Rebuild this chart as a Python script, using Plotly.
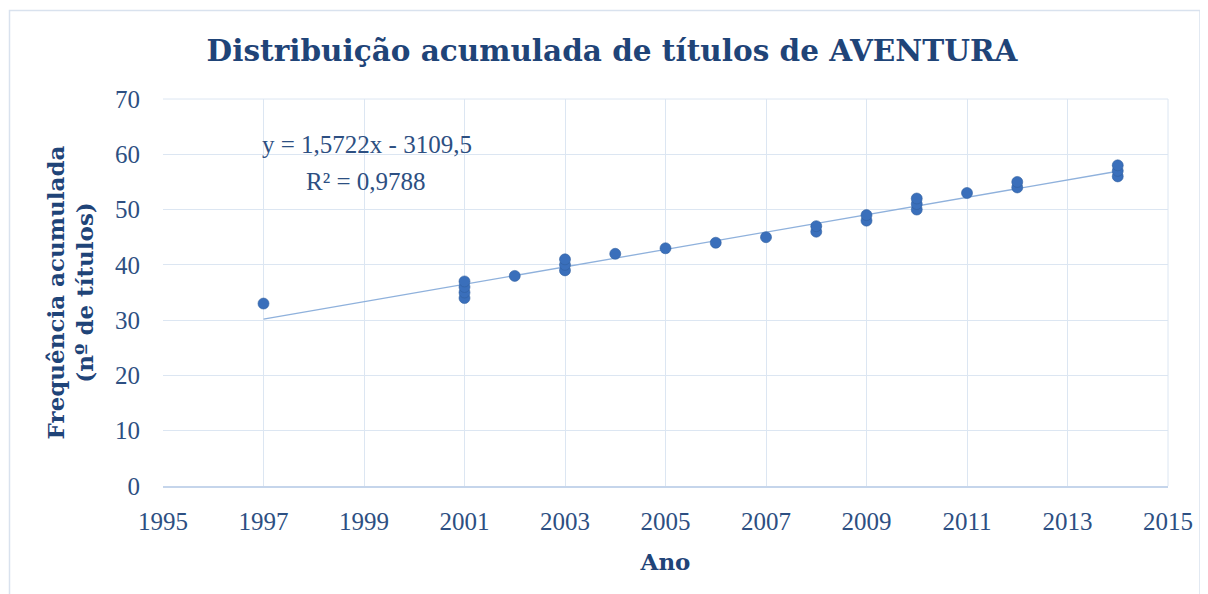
import numpy as np
import plotly.graph_objects as go

years = [1997, 2001, 2001, 2001, 2001, 2002, 2003, 2003, 2003, 2004, 2005, 2006, 2007,
         2008, 2008, 2009, 2009, 2010, 2010, 2010, 2011, 2012, 2012, 2014, 2014, 2014]
cumulative = [33, 34, 35, 36, 37, 38, 39, 40, 41, 42, 43, 44, 45,
              46, 47, 48, 49, 50, 51, 52, 53, 54, 55, 56, 57, 58]
x_ticks = list(range(1995, 2016, 2))
y_ticks = list(range(0, 71, 10))
eq_text = "y = 1,5722x - 3109,5"
r2_text = "R² = 0,9788"

slope, intercept = np.polyfit(years, cumulative, 1)
x_line = [min(years), max(years)]
y_line = [slope * v + intercept for v in x_line]

FONT = "Liberation Serif"
BOLD = "DejaVu Serif"
DARK = "#1f4478"
TXT = "#2d4f82"
GRID = "#dce6f2"

# page offset of the plot div (body margin)
OFF = 8
PL, PT, PR, PB = 163, 99, 1168, 486
W, H = 1208 - OFF, 594 - OFF


def px(x):
    return (x - PL) / (PR - PL)


def py(y):
    return (PB - y) / (PB - PT)


fig = go.Figure()
fig.add_trace(go.Scatter(x=x_line, y=y_line, mode="lines",
                         line=dict(color="#8fb1dc", width=1.3), hoverinfo="skip",
                         showlegend=False))
fig.add_trace(go.Scatter(x=years, y=cumulative, mode="markers",
                         marker=dict(color="#3a6fbb", size=11,
                                     line=dict(color="#30609f", width=0.6)),
                         showlegend=False))

fig.update_layout(
    width=W, height=H,
    paper_bgcolor="white", plot_bgcolor="white",
    margin=dict(l=PL - OFF, r=1208 - PR, t=PT - OFF, b=594 - PB),
    font=dict(family=FONT, color=TXT, size=25),
    title=dict(text="<b>Distribuição acumulada de títulos de AVENTURA</b>",
               x=(612 - OFF) / W, xref="container", xanchor="center",
               y=1 - (51 - OFF) / H, yref="container", yanchor="middle",
               font=dict(family=BOLD, size=29.5, color=DARK)),
    xaxis=dict(range=[1995, 2015], tickvals=x_ticks, showgrid=True, gridcolor=GRID,
               gridwidth=1, zeroline=False, showline=True, linecolor="#c5d5eb",
               linewidth=1.5, ticks="", tickfont=dict(size=25, color=TXT),
               ticklabelstandoff=12, automargin=False,
               title=dict(text="<b>Ano</b>", font=dict(family=BOLD, size=23, color=DARK),
                          standoff=20)),
    yaxis=dict(range=[0, 70], tickvals=y_ticks, showgrid=True, gridcolor=GRID,
               gridwidth=1, zeroline=False, showline=False, ticks="",
               tickfont=dict(size=25, color=TXT), ticklabelstandoff=22, automargin=False,
               title=dict(text="<b>Frequência acumulada<br>(nº de títulos)</b>",
                          font=dict(family=BOLD, size=23, color=DARK), standoff=14)),
    shapes=[
        dict(type="line", xref="paper", yref="paper", x0=1, x1=1, y0=0, y1=1,
             line=dict(color=GRID, width=1)),
        dict(type="line", xref="paper", yref="paper", x0=0, x1=1, y0=1, y1=1,
             line=dict(color=GRID, width=1)),
        dict(type="rect", xref="paper", yref="paper", x0=px(9.5), x1=px(1200),
             y0=py(640), y1=py(10.5), line=dict(color="#d9e2ee", width=1.5),
             layer="below"),
    ],
    annotations=[
        dict(text=eq_text, xref="paper", yref="paper", x=px(367), y=py(145),
             xanchor="center", yanchor="middle", showarrow=False,
             font=dict(size=25, color=TXT)),
        dict(text=r2_text, xref="paper", yref="paper", x=px(366), y=py(181),
             xanchor="center", yanchor="middle", showarrow=False,
             font=dict(size=25, color=TXT)),
    ],
)

fig.write_html("out.html")
